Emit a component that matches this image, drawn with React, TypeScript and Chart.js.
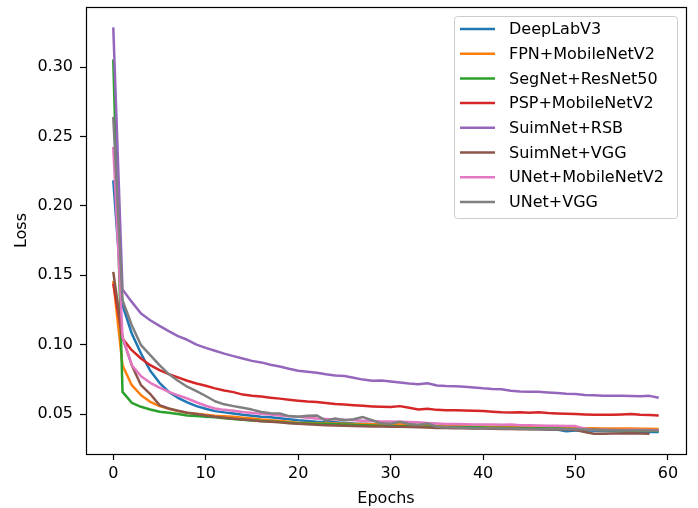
import React, { useEffect, useRef } from "react";
import { Chart, registerables } from "chart.js";
Chart.register(...registerables);

const SERIES_NAMES = [
  "DeepLabV3",
  "FPN+MobileNetV2",
  "SegNet+ResNet50",
  "PSP+MobileNetV2",
  "SuimNet+RSB",
  "SuimNet+VGG",
  "UNet+MobileNetV2",
  "UNet+VGG",
];
const SERIES_COLORS = ["#1f77b4", "#ff7f0e", "#2ca02c", "#d62728", "#9467bd", "#8c564b", "#e377c2", "#7f7f7f"];

const DEEPLABV3 = [
  0.2184, 0.1284, 0.1080, 0.0936, 0.0812, 0.0725, 0.0660, 0.0617, 0.0584, 0.0557,
  0.0538, 0.0521, 0.0512, 0.0504, 0.0495, 0.0488, 0.0480, 0.0476, 0.0470, 0.0462,
  0.0455, 0.0450, 0.0445, 0.0442, 0.0440, 0.0436, 0.0432, 0.0430, 0.0428, 0.0425,
  0.0422, 0.0420, 0.0418, 0.0415, 0.0412, 0.0410, 0.0408, 0.0406, 0.0405, 0.0403,
  0.0401, 0.0400, 0.0398, 0.0396, 0.0395, 0.0393, 0.0392, 0.0390, 0.0389, 0.0376,
  0.0382, 0.0384, 0.0380, 0.0378, 0.0377, 0.0375, 0.0374, 0.0372, 0.0371, 0.0370,
];
const FPN_MOBILENETV2 = [
  0.1460, 0.0852, 0.0708, 0.0636, 0.0588, 0.0557, 0.0538, 0.0521, 0.0509, 0.0502,
  0.0494, 0.0488, 0.0484, 0.0480, 0.0474, 0.0468, 0.0461, 0.0456, 0.0450, 0.0444,
  0.0438, 0.0436, 0.0434, 0.0432, 0.0432, 0.0430, 0.0428, 0.0428, 0.0426, 0.0424,
  0.0428, 0.0432, 0.0420, 0.0418, 0.0416, 0.0415, 0.0414, 0.0413, 0.0412, 0.0411,
  0.0410, 0.0409, 0.0408, 0.0406, 0.0405, 0.0404, 0.0403, 0.0402, 0.0401, 0.0400,
  0.0399, 0.0398, 0.0397, 0.0396, 0.0396, 0.0395, 0.0395, 0.0394, 0.0394, 0.0393,
];
const SEGNET_RESNET50 = [
  0.3055, 0.0660, 0.0581, 0.0552, 0.0533, 0.0516, 0.0509, 0.0500, 0.0490, 0.0485,
  0.0480, 0.0476, 0.0470, 0.0464, 0.0458, 0.0453, 0.0450, 0.0446, 0.0442, 0.0438,
  0.0434, 0.0432, 0.0430, 0.0428, 0.0426, 0.0424, 0.0422, 0.0420, 0.0418, 0.0416,
  0.0414, 0.0412, 0.0411, 0.0410, 0.0409, 0.0408, 0.0407, 0.0406, 0.0405, 0.0404,
  0.0403, 0.0402, 0.0401, 0.0400, 0.0399, 0.0398, 0.0397, 0.0396, 0.0395, 0.0394,
  0.0393, 0.0389, 0.0386, 0.0384, 0.0383, 0.0382, 0.0381, 0.0380, 0.0379, 0.0378,
];
const PSP_MOBILENETV2 = [
  0.1440, 0.1044, 0.0960, 0.0900, 0.0852, 0.0816, 0.0788, 0.0764, 0.0740, 0.0720,
  0.0704, 0.0685, 0.0670, 0.0658, 0.0640, 0.0632, 0.0626, 0.0618, 0.0611, 0.0603,
  0.0596, 0.0590, 0.0586, 0.0580, 0.0573, 0.0569, 0.0564, 0.0559, 0.0555, 0.0552,
  0.0550, 0.0557, 0.0545, 0.0533, 0.0538, 0.0530, 0.0528, 0.0527, 0.0526, 0.0524,
  0.0521, 0.0517, 0.0512, 0.0511, 0.0513, 0.0510, 0.0512, 0.0507, 0.0504, 0.0502,
  0.0500, 0.0497, 0.0495, 0.0495, 0.0494, 0.0497, 0.0500, 0.0494, 0.0493, 0.0490,
];
const SUIMNET_RSB = [
  0.3286, 0.1397, 0.1308, 0.1224, 0.1176, 0.1135, 0.1097, 0.1061, 0.1035, 0.1000,
  0.0977, 0.0956, 0.0935, 0.0917, 0.0900, 0.0883, 0.0872, 0.0855, 0.0842, 0.0826,
  0.0812, 0.0804, 0.0797, 0.0786, 0.0778, 0.0774, 0.0762, 0.0748, 0.0740, 0.0741,
  0.0734, 0.0728, 0.0720, 0.0715, 0.0722, 0.0706, 0.0702, 0.0701, 0.0697, 0.0692,
  0.0685, 0.0680, 0.0678, 0.0668, 0.0663, 0.0660, 0.0660, 0.0656, 0.0652, 0.0647,
  0.0644, 0.0638, 0.0635, 0.0632, 0.0632, 0.0632, 0.0630, 0.0629, 0.0631, 0.0617,
];
const SUIMNET_VGG = [
  0.1524, 0.1050, 0.0852, 0.0708, 0.0644, 0.0564, 0.0540, 0.0524, 0.0509, 0.0500,
  0.0490, 0.0480, 0.0474, 0.0466, 0.0460, 0.0455, 0.0448, 0.0444, 0.0440, 0.0434,
  0.0430, 0.0426, 0.0422, 0.0420, 0.0418, 0.0416, 0.0414, 0.0412, 0.0411, 0.0410,
  0.0409, 0.0408, 0.0406, 0.0405, 0.0403, 0.0400, 0.0399, 0.0398, 0.0397, 0.0396,
  0.0395, 0.0394, 0.0393, 0.0392, 0.0391, 0.0390, 0.0390, 0.0389, 0.0389, 0.0388,
  0.0385, 0.0370, 0.0358, 0.0358, 0.0360, 0.0359, 0.0362, 0.0360, 0.0358,
];
const UNET_MOBILENETV2 = [
  0.2424, 0.1056, 0.0852, 0.0773, 0.0725, 0.0690, 0.0660, 0.0635, 0.0612, 0.0585,
  0.0560, 0.0540, 0.0530, 0.0524, 0.0515, 0.0508, 0.0502, 0.0496, 0.0490, 0.0484,
  0.0480, 0.0474, 0.0468, 0.0464, 0.0461, 0.0458, 0.0455, 0.0452, 0.0450, 0.0447,
  0.0446, 0.0444, 0.0442, 0.0440, 0.0435, 0.0432, 0.0428, 0.0428, 0.0426, 0.0425,
  0.0424, 0.0424, 0.0422, 0.0424, 0.0420, 0.0419, 0.0418, 0.0416, 0.0415, 0.0414,
  0.0413, 0.0395, 0.0385, 0.0386, 0.0385, 0.0385, 0.0386, 0.0385, 0.0385, 0.0384,
];
const UNET_VGG = [
  0.2640, 0.1320, 0.1140, 0.0996, 0.0924, 0.0852, 0.0788, 0.0740, 0.0697, 0.0665,
  0.0630, 0.0592, 0.0570, 0.0557, 0.0545, 0.0532, 0.0515, 0.0505, 0.0504, 0.0485,
  0.0480, 0.0488, 0.0490, 0.0452, 0.0468, 0.0455, 0.0462, 0.0478, 0.0455, 0.0433,
  0.0430, 0.0444, 0.0428, 0.0422, 0.0432, 0.0408, 0.0405, 0.0403, 0.0400, 0.0398,
  0.0398, 0.0397, 0.0396, 0.0395, 0.0394, 0.0394, 0.0393, 0.0392, 0.0392, 0.0391,
  0.0390, 0.0388, 0.0386, 0.0385, 0.0385, 0.0384, 0.0384, 0.0383, 0.0382, 0.0382,
];

const X_TICKS = [0, 10, 20, 30, 40, 50, 60];
const Y_TICKS = [0.05, 0.1, 0.15, 0.2, 0.25, 0.3];
const X_TITLE = "Epochs";
const Y_TITLE = "Loss";

const FONT = "DejaVu Sans";

export default function App() {
  const ref = useRef<HTMLCanvasElement>(null);

  useEffect(() => {
    document.body.style.margin = "0";
    const series = [
      DEEPLABV3,
      FPN_MOBILENETV2,
      SEGNET_RESNET50,
      PSP_MOBILENETV2,
      SUIMNET_RSB,
      SUIMNET_VGG,
      UNET_MOBILENETV2,
      UNET_VGG,
    ];

    const framePlugin = {
      id: "mplFrame",
      afterDatasetsDraw(chart: any) {
        const { ctx, chartArea } = chart;
        ctx.save();
        ctx.strokeStyle = "#000";
        ctx.lineWidth = 1.2;
        ctx.strokeRect(
          Math.round(chartArea.left) + 0.5,
          Math.round(chartArea.top) + 0.5,
          Math.round(chartArea.right - chartArea.left),
          Math.round(chartArea.bottom - chartArea.top)
        );
        ctx.restore();
      },
    };

    const legendPlugin = {
      id: "mplLegend",
      afterDraw(chart: any) {
        const ctx = chart.ctx;
        ctx.save();
        ctx.beginPath();
        if ((ctx as any).roundRect) {
          (ctx as any).roundRect(454.5, 16.5, 223, 202, 3);
        } else {
          ctx.rect(454.5, 16.5, 223, 202);
        }
        ctx.fillStyle = "rgba(255,255,255,0.8)";
        ctx.fill();
        ctx.strokeStyle = "#cccccc";
        ctx.lineWidth = 1;
        ctx.stroke();
        ctx.font = `16px "${FONT}"`;
        ctx.textBaseline = "middle";
        ctx.textAlign = "left";
        chart.data.datasets.forEach((ds: any, i: number) => {
          const y = 29 + i * 24.7;
          ctx.strokeStyle = ds.borderColor;
          ctx.lineWidth = 2.5;
          ctx.beginPath();
          ctx.moveTo(460, y);
          ctx.lineTo(495, y);
          ctx.stroke();
          ctx.fillStyle = "#000";
          ctx.fillText(ds.label, 509, y + 1);
        });
        ctx.restore();
      },
    };

    const chart = new Chart(ref.current as HTMLCanvasElement, {
      type: "line",
      data: {
        datasets: series.map((s, i) => ({
          label: SERIES_NAMES[i],
          data: s.map((v, e) => ({ x: e, y: v })),
          borderColor: SERIES_COLORS[i],
          backgroundColor: SERIES_COLORS[i],
          borderWidth: 2.5,
          pointRadius: 0,
          pointHoverRadius: 0,
          fill: false,
          tension: 0,
          borderJoinStyle: "round" as const,
          order: series.length - i,
        })),
      },
      options: {
        responsive: false,
        animation: false,
        devicePixelRatio: 1,
        layout: { padding: { left: 0, top: 7, right: 12, bottom: 0 } },
        plugins: {
          legend: { display: false },
          tooltip: { enabled: false },
        },
        scales: {
          x: {
            type: "linear",
            min: -2.95,
            max: 61.95,
            afterBuildTicks: (s: any) => {
              s.ticks = X_TICKS.map((v) => ({ value: v }));
            },
            afterFit: (s: any) => {
              s.height = 54;
              s.paddingLeft = 0;
              s.paddingRight = 0;
            },
            grid: {
              drawOnChartArea: false,
              drawTicks: true,
              tickLength: 6,
              color: "#000",
              tickColor: "#000",
              tickWidth: 1.2,
            },
            border: { display: false },
            ticks: {
              color: "#000",
              font: { size: 16, family: FONT },
              padding: 4,
              maxRotation: 0,
              autoSkip: false,
              callback: (v: any) => String(v),
            },
            title: {
              display: true,
              text: X_TITLE,
              color: "#000",
              font: { size: 16, family: FONT },
              padding: { top: 4, bottom: 0 },
            },
          },
          y: {
            type: "linear",
            min: 0.0212,
            max: 0.3433,
            afterBuildTicks: (s: any) => {
              s.ticks = Y_TICKS.map((v) => ({ value: v }));
            },
            afterFit: (s: any) => {
              s.width = 86;
              s.paddingTop = 0;
              s.paddingBottom = 0;
            },
            grid: {
              drawOnChartArea: false,
              drawTicks: true,
              tickLength: 6,
              color: "#000",
              tickColor: "#000",
              tickWidth: 1.2,
            },
            border: { display: false },
            ticks: {
              color: "#000",
              font: { size: 16, family: FONT },
              padding: 7,
              autoSkip: false,
              callback: (v: any) => Number(v).toFixed(2),
            },
            title: {
              display: true,
              text: Y_TITLE,
              color: "#000",
              font: { size: 16, family: FONT },
              padding: { top: 12, bottom: 0 },
            },
          },
        },
      },
      plugins: [framePlugin, legendPlugin],
    } as any);

    return () => chart.destroy();
  }, []);

  return (
    <div style={{ position: "absolute", left: 0, top: 0, width: 698, height: 508 }}>
      <canvas ref={ref} width={698} height={508} style={{ width: 698, height: 508, display: "block" }} />
    </div>
  );
}
